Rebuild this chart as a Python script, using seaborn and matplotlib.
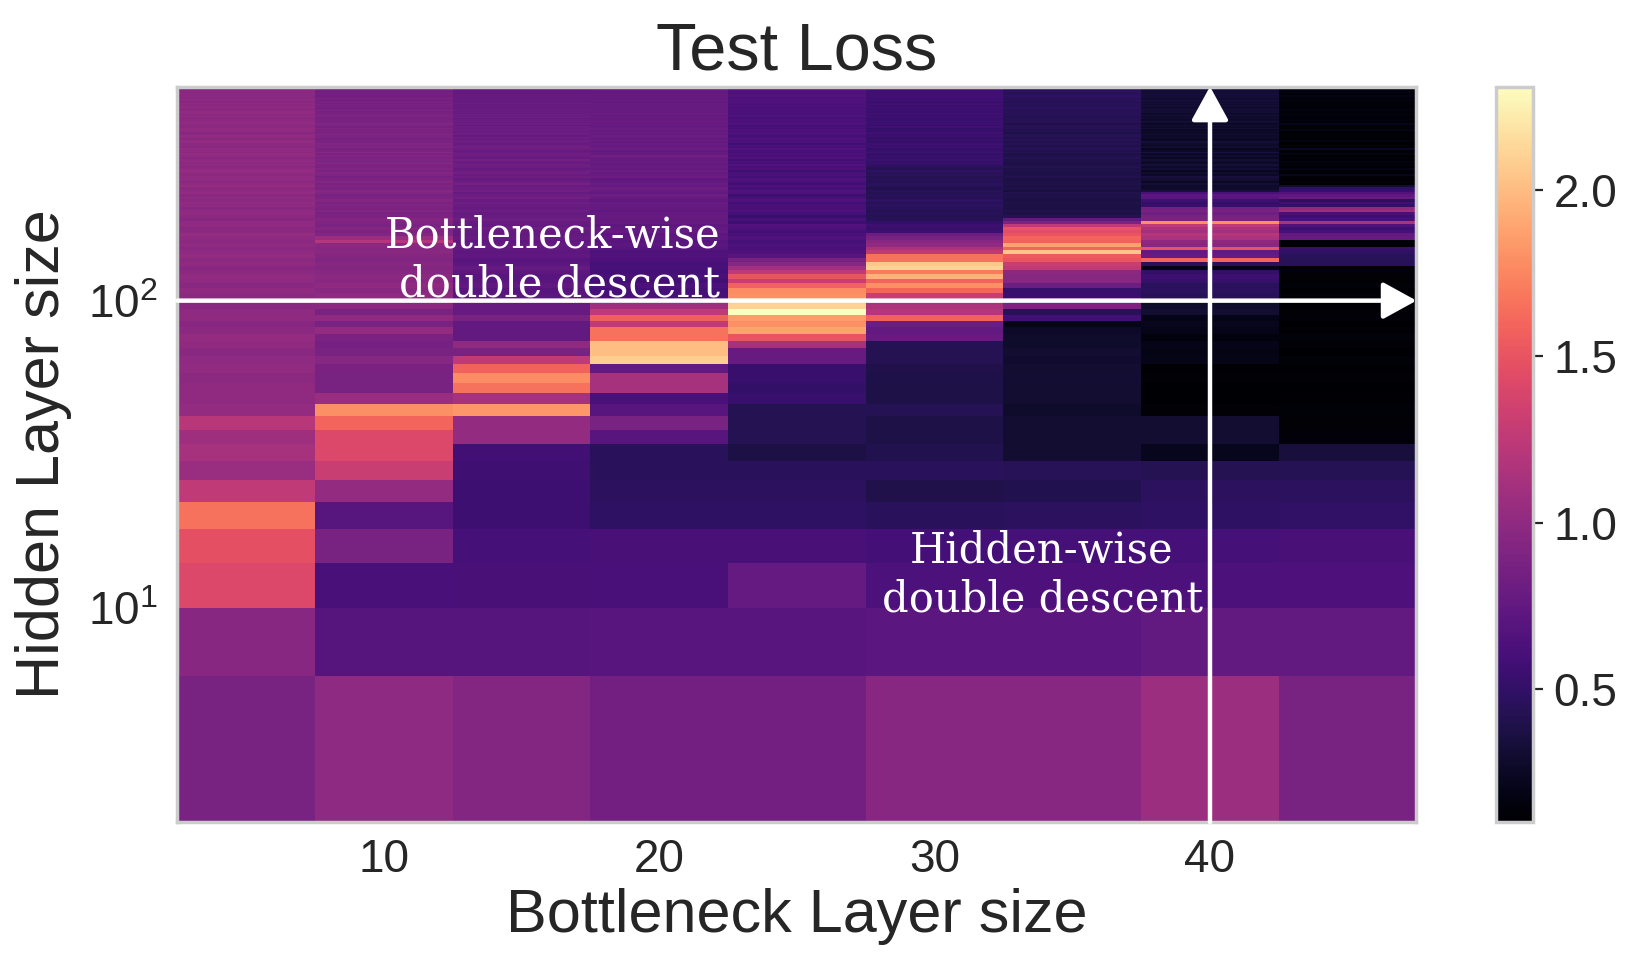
import matplotlib
matplotlib.use("Agg")
import matplotlib.pyplot as plt
import matplotlib.ticker as mticker
import numpy as np
import seaborn as sns

bottleneck_sizes = [5, 10, 15, 20, 25, 30, 35, 40, 45]
hidden_sizes = list(range(4, 500, 4))  # 4, 8, ..., 496

# test loss for each bottleneck size, one value per hidden size (bottom to top)
loss_b05 = [
    0.87, 0.96, 1.42, 1.47, 1.66, 1.25, 1.05, 1.12, 1.08, 1.22, 1.02, 1.00,
    1.00, 0.98, 1.01, 0.99, 0.97, 1.00, 1.02, 0.98, 0.96, 1.00, 0.99, 0.97, 1.00,
    0.98, 1.00, 0.97, 0.99, 1.01, 0.98, 0.96, 1.00, 0.98, 1.02, 0.99, 0.97,
    1.00, 0.98, 0.99, 1.03, 0.98, 0.97, 1.00, 0.99, 0.96, 0.98, 1.01, 0.99, 0.97,
    0.99, 1.01, 0.98, 1.00, 0.97, 1.02, 0.99, 0.98, 1.03, 1.00,
    0.97, 0.99, 1.01, 0.98, 1.00, 1.04, 0.99, 0.97, 1.00, 0.98,
    1.01, 0.99, 0.96, 1.00, 1.02, 0.98, 0.99, 1.01, 0.97, 1.00,
    0.98, 1.02, 0.99, 0.97, 1.00, 1.01, 0.98, 0.96, 0.99, 1.00,
    1.02, 0.98, 0.97, 1.00, 0.99, 1.01, 0.98, 0.96, 0.99, 1.00,
    0.97, 0.99, 1.01, 0.98, 0.96, 0.99, 1.00, 0.97, 0.98, 1.00,
    0.96, 0.98, 0.99, 0.97, 0.95, 0.98, 0.97, 0.99, 0.96, 0.98,
    0.97, 0.95, 0.98, 0.96,
]
loss_b10 = [
    0.99, 0.68, 0.62, 0.87, 0.69, 1.02, 1.30, 1.42, 1.42, 1.60, 1.80, 1.05,
    0.87, 0.87, 0.88, 0.95, 0.87, 0.86, 0.88, 1.02, 0.87, 1.00, 0.87, 0.98, 0.97,
    0.99, 0.97, 1.00, 0.96, 0.98, 0.95, 0.93, 0.96, 0.92, 0.94, 0.97, 0.95,
    0.98, 1.20, 1.05, 0.92, 0.90, 0.93, 0.89, 0.91, 0.94, 0.90, 0.88, 0.92, 0.90,
    0.91, 0.88, 0.93, 0.90, 0.87, 0.92, 0.95, 0.89, 0.91, 0.88,
    0.93, 0.90, 0.86, 0.91, 0.94, 0.89, 0.92, 0.88, 0.90, 0.93,
    0.87, 0.91, 0.89, 0.92, 0.88, 0.95, 0.90, 0.87, 0.91, 0.89,
    0.92, 0.88, 0.90, 0.86, 0.91, 0.89, 0.93, 0.87, 0.90, 0.88,
    0.91, 0.86, 0.89, 0.92, 0.87, 0.90, 0.88, 0.85, 0.89, 0.91,
    0.87, 0.88, 0.86, 0.90, 0.87, 0.85, 0.88, 0.86, 0.89, 0.85,
    0.87, 0.84, 0.86, 0.88, 0.85, 0.83, 0.86, 0.84, 0.85, 0.83,
    0.86, 0.84, 0.83, 0.85,
]
loss_b15 = [
    0.93, 0.68, 0.61, 0.60, 0.55, 0.55, 0.56, 0.58, 1.02, 1.02, 1.82, 1.12,
    1.66, 1.78, 1.58, 1.25, 0.87, 1.00, 0.75, 0.75, 0.75, 0.87, 0.78, 0.78, 0.76,
    0.72, 0.70, 0.74, 0.71, 0.70, 0.73, 0.76, 0.72, 0.70, 0.74, 0.73, 0.75,
    0.76, 0.74, 0.78, 0.75, 0.77, 0.80, 0.76, 0.78, 0.82, 0.79, 0.77, 0.80, 0.78,
    0.79, 0.82, 0.78, 0.84, 0.80, 0.77, 0.83, 0.81, 0.79, 0.86,
    0.80, 0.78, 0.82, 0.79, 0.84, 0.81, 0.77, 0.80, 0.83, 0.79,
    0.81, 0.85, 0.78, 0.80, 0.82, 0.79, 0.77, 0.81, 0.84, 0.80,
    0.78, 0.82, 0.80, 0.79, 0.83, 0.77, 0.81, 0.80, 0.78, 0.82,
    0.79, 0.81, 0.77, 0.80, 0.78, 0.82, 0.79, 0.76, 0.80, 0.78,
    0.81, 0.77, 0.79, 0.78, 0.80, 0.76, 0.79, 0.77, 0.78, 0.80,
    0.76, 0.78, 0.77, 0.79, 0.75, 0.78, 0.76, 0.77, 0.75, 0.77,
    0.76, 0.74, 0.77, 0.75,
]
loss_b20 = [
    0.84, 0.70, 0.62, 0.61, 0.48, 0.47, 0.46, 0.46, 0.70, 0.87, 0.70, 0.62,
    1.12, 1.12, 0.75, 2.08, 2.00, 2.00, 1.66, 1.66, 1.25, 1.57, 1.25, 1.08, 0.66,
    0.62, 0.60, 0.63, 0.58, 0.61, 0.59, 0.62, 0.60, 0.64, 0.66, 0.65, 0.68,
    0.72, 0.70, 0.74, 0.72, 0.76, 0.75, 0.73, 0.77, 0.75, 0.78, 0.76, 0.74, 0.77,
    0.76, 0.79, 0.74, 0.77, 0.80, 0.75, 0.78, 0.82, 0.76, 0.79,
    0.77, 0.74, 0.80, 0.78, 0.76, 0.81, 0.77, 0.79, 0.75, 0.78,
    0.80, 0.76, 0.79, 0.83, 0.77, 0.78, 0.75, 0.80, 0.78, 0.76,
    0.79, 0.77, 0.81, 0.76, 0.78, 0.80, 0.75, 0.79, 0.77, 0.78,
    0.80, 0.76, 0.78, 0.79, 0.77, 0.81, 0.78, 0.76, 0.79, 0.77,
    0.78, 0.80, 0.76, 0.79, 0.77, 0.78, 0.75, 0.79, 0.77, 0.78,
    0.76, 0.79, 0.77, 0.75, 0.78, 0.76, 0.78, 0.77, 0.75, 0.77,
    0.76, 0.78, 0.75, 0.77,
]
loss_b25 = [
    0.84, 0.70, 0.76, 0.61, 0.48, 0.47, 0.46, 0.37, 0.42, 0.42, 0.42, 0.54,
    0.50, 0.54, 0.54, 0.78, 0.78, 1.12, 1.50, 1.88, 1.80, 1.85, 2.31, 2.10, 1.95,
    1.80, 1.78, 1.58, 1.30, 1.50, 1.25, 1.10, 0.95, 0.87, 0.70, 0.65, 0.62,
    0.63, 0.60, 0.65, 0.62, 0.58, 0.64, 0.66, 0.55, 0.62, 0.54, 0.60, 0.63, 0.61,
    0.62, 0.58, 0.65, 0.61, 0.55, 0.63, 0.66, 0.60, 0.64, 0.57,
    0.62, 0.65, 0.59, 0.63, 0.61, 0.56, 0.64, 0.62, 0.66, 0.60,
    0.63, 0.58, 0.65, 0.61, 0.64, 0.59, 0.62, 0.66, 0.60, 0.63,
    0.57, 0.64, 0.61, 0.65, 0.62, 0.59, 0.63, 0.66, 0.61, 0.64,
    0.60, 0.62, 0.58, 0.65, 0.63, 0.61, 0.64, 0.59, 0.62, 0.66,
    0.63, 0.60, 0.64, 0.62, 0.65, 0.61, 0.63, 0.66, 0.62, 0.64,
    0.65, 0.63, 0.66, 0.64, 0.62, 0.67, 0.65, 0.63, 0.66, 0.64,
    0.67, 0.65, 0.66, 0.64,
]
loss_b30 = [
    0.96, 0.72, 0.63, 0.59, 0.46, 0.40, 0.46, 0.41, 0.38, 0.38, 0.43, 0.38,
    0.38, 0.39, 0.40, 0.42, 0.42, 0.43, 0.78, 0.75, 0.80, 1.58, 1.20, 1.15, 1.25,
    1.30, 1.60, 1.80, 1.60, 1.95, 1.70, 2.10, 2.05, 1.66, 1.66, 1.25, 1.15,
    1.00, 0.96, 0.87, 0.80, 0.55, 0.52, 0.55, 0.50, 0.44, 0.42, 0.46, 0.43, 0.45,
    0.47, 0.44, 0.48, 0.42, 0.45, 0.43, 0.46, 0.41, 0.44, 0.47,
    0.43, 0.45, 0.42, 0.46, 0.44, 0.48, 0.43, 0.45,
    0.50, 0.53, 0.48, 0.55, 0.51, 0.54, 0.49, 0.56, 0.52, 0.50,
    0.55, 0.53, 0.57, 0.51, 0.54, 0.52, 0.49, 0.55, 0.53, 0.56,
    0.51, 0.54, 0.50, 0.57, 0.53, 0.55, 0.52, 0.58, 0.54, 0.51,
    0.56, 0.53, 0.55, 0.58, 0.52, 0.56, 0.54, 0.57, 0.55, 0.53,
    0.58, 0.56, 0.54, 0.59, 0.55, 0.57, 0.56, 0.58, 0.55, 0.59,
    0.57, 0.56, 0.58, 0.60, 0.57, 0.59,
]
loss_b35 = [
    0.96, 0.72, 0.64, 0.60, 0.47, 0.41, 0.44, 0.30, 0.30, 0.30, 0.28, 0.30,
    0.30, 0.31, 0.30, 0.29, 0.30, 0.28, 0.28, 0.27, 0.20, 0.58, 0.45, 0.90, 0.70,
    0.54, 0.52, 0.80, 0.96, 0.95, 0.98, 1.25, 1.30, 1.50, 1.55, 2.05, 1.60,
    1.87, 1.58, 1.60, 1.50, 1.45, 1.50, 1.25, 0.90, 0.75, 0.42, 0.38, 0.40, 0.37,
    0.37, 0.40, 0.36, 0.39, 0.38, 0.41, 0.35, 0.39, 0.37, 0.40,
    0.38, 0.36, 0.41, 0.39, 0.37, 0.40, 0.38, 0.42, 0.39, 0.37,
    0.41, 0.39, 0.43, 0.40, 0.38, 0.42, 0.40, 0.44, 0.41, 0.39,
    0.43, 0.41, 0.45, 0.42, 0.40, 0.44, 0.42, 0.39, 0.43, 0.41,
    0.45, 0.42, 0.44, 0.40, 0.43, 0.46, 0.42, 0.44, 0.41, 0.45,
    0.43, 0.46, 0.44, 0.42, 0.45, 0.47, 0.43, 0.45, 0.44, 0.46,
    0.43, 0.47, 0.45, 0.44, 0.46, 0.48, 0.45, 0.46, 0.44, 0.47,
    0.45, 0.46, 0.48, 0.46,
]
loss_b40 = [
    1.06, 0.75, 0.63, 0.60, 0.48, 0.47, 0.42, 0.22, 0.30, 0.30, 0.12, 0.10,
    0.10, 0.12, 0.11, 0.20, 0.18, 0.20, 0.16, 0.20, 0.22, 0.19, 0.30, 0.28, 0.35,
    0.45, 0.47, 0.46, 0.52, 0.55, 0.50, 0.20, 0.45, 1.60, 0.78, 0.75, 1.50,
    0.96, 0.98, 1.15, 1.20, 1.10, 1.15, 1.25, 1.80, 0.90, 0.87, 0.82, 0.88, 0.85,
    0.54, 0.50, 0.56, 0.70, 0.72, 0.62, 0.35, 0.28,
    0.27, 0.32, 0.24, 0.30, 0.35, 0.26, 0.29, 0.23, 0.31, 0.27,
    0.34, 0.25, 0.28, 0.32, 0.24, 0.29, 0.26, 0.36, 0.27, 0.23,
    0.30, 0.25, 0.28, 0.33, 0.26, 0.24, 0.29, 0.27, 0.31, 0.25,
    0.28, 0.24, 0.32, 0.27, 0.30, 0.26, 0.29, 0.34, 0.27, 0.31,
    0.28, 0.33, 0.29, 0.26, 0.32, 0.30, 0.35, 0.28, 0.31, 0.33,
    0.29, 0.32, 0.30, 0.34, 0.31, 0.29, 0.33, 0.31, 0.35, 0.32,
    0.30, 0.33, 0.31, 0.34, 0.32, 0.33,
]
loss_b45 = [
    0.87, 0.75, 0.64, 0.61, 0.49, 0.47, 0.43, 0.35, 0.14, 0.12, 0.13, 0.11,
    0.10, 0.12, 0.11, 0.13, 0.10, 0.12, 0.15, 0.11, 0.10, 0.14, 0.12, 0.11, 0.13,
    0.12, 0.10, 0.13, 0.11, 0.12, 0.14, 0.12, 0.45, 0.44, 0.46, 0.48, 0.52,
    0.10, 0.12, 0.78, 0.75, 0.60, 0.55, 0.65, 1.15, 0.60, 0.55, 0.62, 1.06, 1.00,
    0.50, 0.56, 0.46, 0.78, 0.74, 0.66, 0.54, 0.48, 0.30,
    0.12, 0.16, 0.10, 0.14, 0.22, 0.11, 0.13, 0.18, 0.10, 0.15,
    0.12, 0.20, 0.11, 0.14, 0.10, 0.17, 0.13, 0.11, 0.24, 0.12,
    0.15, 0.10, 0.13, 0.19, 0.11, 0.14, 0.12, 0.16, 0.10, 0.13,
    0.18, 0.11, 0.15, 0.12, 0.21, 0.13, 0.10, 0.16, 0.12, 0.14,
    0.11, 0.17, 0.13, 0.15, 0.12, 0.19, 0.14, 0.11, 0.16, 0.13,
    0.15, 0.12, 0.17, 0.14, 0.16, 0.13, 0.18, 0.14, 0.16, 0.15,
    0.17, 0.14, 0.16, 0.15, 0.17,
]

sns.set_theme(style="whitegrid")
plt.rcParams["font.family"] = ["Liberation Sans", "DejaVu Sans"]

columns = [loss_b05, loss_b10, loss_b15, loss_b20, loss_b25,
           loss_b30, loss_b35, loss_b40, loss_b45]
loss = np.column_stack(columns)

fig = plt.figure(figsize=(8.185, 4.865), dpi=200)
ax = fig.add_axes([0.1084, 0.155, 0.7569, 0.756])
cax = fig.add_axes([0.9139, 0.155, 0.0224, 0.756])

mesh = ax.pcolormesh(bottleneck_sizes, hidden_sizes, loss, shading="nearest",
                     cmap=sns.color_palette("magma", as_cmap=True))
ax.set_yscale("log")
ax.grid(False)
ax.xaxis.set_major_locator(mticker.MultipleLocator(10))
ax.yaxis.set_minor_formatter(mticker.NullFormatter())
ax.tick_params(axis="x", labelsize=16.5, pad=5.8, length=0)
ax.tick_params(axis="y", which="both", labelsize=16.5, pad=7, length=0)

ax.set_title("Test Loss", fontsize=24, pad=6)
ax.set_xlabel("Bottleneck Layer size", fontsize=22, labelpad=2)
ax.set_ylabel("Hidden Layer size", fontsize=22, labelpad=6)

# arrows across the whole plot
x0, x1 = ax.get_xlim()
y0, y1 = ax.get_ylim()
arrow = dict(arrowstyle="-|>,head_length=0.4,head_width=0.22", color="white",
             lw=1.6, mutation_scale=26, shrinkA=0, shrinkB=0)
ax.annotate("", xy=(x1, 100), xytext=(x0, 100), arrowprops=arrow,
            annotation_clip=False)
ax.annotate("", xy=(40, y1), xytext=(40, y0), arrowprops=arrow,
            annotation_clip=False)

ax.text(22.2, 96.5, "Bottleneck-wise\ndouble descent", color="white",
        fontsize=15, family="DejaVu Serif", ha="right", va="bottom",
        multialignment="right")
ax.text(33.9, 9.1, "Hidden-wise\ndouble descent", color="white",
        fontsize=15, family="DejaVu Serif", ha="center", va="bottom",
        multialignment="center")

cbar = fig.colorbar(mesh, cax=cax)
cbar.outline.set_edgecolor(".8")
cax.tick_params(labelsize=16.5, length=3.5, width=0.8, pad=4, right=True,
                color=".15")

fig.savefig("out.png", dpi=200)
